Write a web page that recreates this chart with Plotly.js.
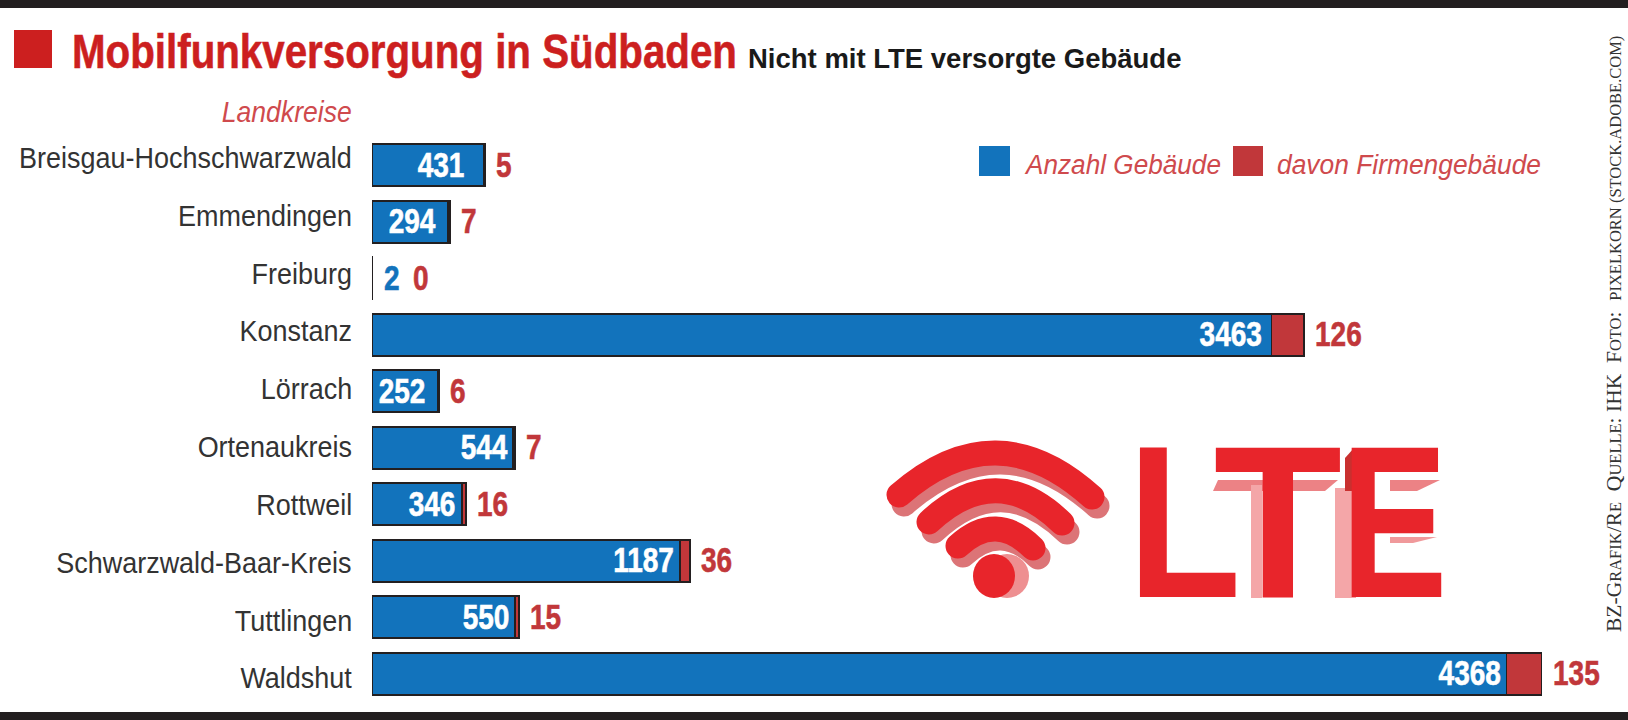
<!DOCTYPE html>
<html>
<head>
<meta charset="utf-8">
<script src="https://cdn.plot.ly/plotly-3.0.1.min.js"></script>
<style>html,body{margin:0;padding:0;background:#fff}</style>
</head>
<body>
<div id="plot" style="width:1628px;height:720px"></div>
<script>
var kreise = ["Breisgau-Hochschwarzwald", "Emmendingen", "Freiburg", "Konstanz", "Lörrach", "Ortenaukreis", "Rottweil", "Schwarzwald-Baar-Kreis", "Tuttlingen", "Waldshut"];
var gebaeude = [431, 294, 2, 3463, 252, 544, 346, 1187, 550, 4368];
var firmen = [5, 7, 0, 126, 6, 7, 16, 36, 15, 135];

// how far each white number sits inside its bar, px
var wertAbstand = [18, 10, 0, 7, 10, 3, 5, 4, 4, 4];

var blau = "#1273bc", rot = "#c1373a", hellrot = "#cf4a4d", titelrot = "#cc1f1f", logorot = "#e8252b", dunkel = "#231f20";
var sans = "Liberation Sans, sans-serif";

// page pixels to paper fractions
function px(x) { return x / 1628; }
function py(y) { return 1 - y / 720; }

var trace1 = {
  type: "bar", orientation: "h", name: "Anzahl Gebäude",
  y: kreise, x: gebaeude,
  marker: {color: blau, line: {color: dunkel, width: 1.8}},
  hoverinfo: "x+y"
};
var trace2 = {
  type: "bar", orientation: "h", name: "davon Firmengebäude",
  y: kreise, x: firmen,
  marker: {color: rot, line: {color: dunkel, width: 1.8}},
  hoverinfo: "x+y"
};

// the paper's condensed face is not installed, so text gets squeezed after drawing.
// squeeze[i] <= 1 is a ratio, above 1 a target width in px, 0 leaves the text alone
var notes = [], squeeze = [];
function note(a, s) { notes.push(a); squeeze.push(s); return notes.length - 1; }

function text(x, y, t, size, color, anchor, s, weight, style) {
  return note({xref: "paper", yref: "paper", x: px(x), y: py(y), text: t, showarrow: false,
    xanchor: anchor, yanchor: "middle",
    font: {size: size, color: color, family: sans, weight: weight || 400, style: style || "normal"}}, s);
}

kreise.forEach(function (k, i) {
  var klein = gebaeude[i] < 100;
  note({xref: "paper", yref: "y", x: px(354), y: k, text: k, showarrow: false, xanchor: "right",
    yshift: (5.5 - i) * 1.35, font: {size: 29, color: "#333", family: sans}}, 0.93);
  note({xref: "x", yref: "y", x: gebaeude[i], y: k, text: String(gebaeude[i]), showarrow: false,
    xanchor: klein ? "left" : "right", xshift: klein ? 9 : -wertAbstand[i], yshift: 1,
    font: {size: 35, color: klein ? blau : "#fff", family: sans, weight: 700}}, 0.8);
  note({xref: "x", yref: "y", x: gebaeude[i] + firmen[i], y: k, text: String(firmen[i]), showarrow: false,
    xanchor: "left", xshift: klein ? 38 : 9, yshift: 1,
    font: {size: 35, color: rot, family: sans, weight: 700}}, 0.8);
});

text(70, 51, "Mobilfunkversorgung in Südbaden", 49, titelrot, "left", 665, 700);
text(746, 58, "Nicht mit LTE versorgte Gebäude", 27.5, "#1a1a1a", "left", 0, 700);
text(354, 111, "Landkreise", 30, hellrot, "right", 130, 400, "italic");
text(1022, 165, "Anzahl Gebäude", 27, hellrot, "left", 195, 400, "italic");
text(1275, 165, "davon Firmengebäude", 27, hellrot, "left", 264, 400, "italic");
var lteIndex = text(1135, 521.5, "LTE", 217, logorot, "left", 0, 700);
// start and advance of each logo letter on the page, px
var lteBuchstaben = [["L", 1127.4, 113.6], ["T", 1213.6, 128.7], ["E", 1341, 106.5]];

function kap(t) { return "<span style=\"font-size:16.5px\">" + t + "</span>"; }
note({xref: "paper", yref: "paper", x: px(1614), y: py(334), textangle: -90, showarrow: false, xanchor: "center", yanchor: "middle",
  text: "BZ-G" + kap("RAFIK") + "/R" + kap("E") + "  Q" + kap("UELLE") + ": IHK  F" + kap("OTO") + ":  " + kap("PIXELKORN (STOCK.ADOBE.COM)"),
  font: {size: 21.5, color: "#333", family: "Liberation Serif"}}, 0);

function rect(x0, y0, x1, y1, color) {
  return {type: "rect", xref: "paper", yref: "paper", x0: px(x0), x1: px(x1), y0: py(y0), y1: py(y1),
    fillcolor: color, line: {width: 0}, layer: "below"};
}
function poly(pts, color) {
  var d = pts.map(function (p, i) { return (i ? "L" : "M") + px(p[0]) + " " + py(p[1]); }).join(" ") + " Z";
  return {type: "path", xref: "paper", yref: "paper", path: d, fillcolor: color, line: {width: 0}, layer: "below"};
}
function bogen(x0, y0, cx, cy, x1, y1, color) {
  return {type: "path", xref: "paper", yref: "paper", layer: "below", line: {color: color, width: 25},
    path: "M" + px(x0) + " " + py(y0) + " Q" + px(cx) + " " + py(cy) + " " + px(x1) + " " + py(y1)};
}
function kreis(x, y, rx, ry, color) {
  return {type: "circle", xref: "paper", yref: "paper", layer: "below", x0: px(x - rx), x1: px(x + rx), y0: py(y - ry), y1: py(y + ry),
    fillcolor: color, line: {width: 0}};
}

var wlanBoegen = [
  [899, 495, 996, 410, 1092, 497],
  [929, 522, 996, 459, 1062, 523],
  [958, 546, 996, 511, 1033, 548]
];

var shapes = [
  rect(0, 0, 1628, 8, dunkel),
  rect(0, 712, 1628, 720, dunkel),
  rect(14, 30, 52, 68, titelrot),
  rect(979, 146, 1010, 176, blau),
  rect(1233, 146, 1263, 176, rot)
];
wlanBoegen.forEach(function (b) { shapes.push(bogen(b[0] + 5, b[1] + 9, b[2] + 5, b[3] + 9, b[4] + 5, b[5] + 9, "#dc7477")); });
wlanBoegen.forEach(function (b) { shapes.push(bogen(b[0], b[1], b[2], b[3], b[4], b[5], logorot)); });
shapes.push(kreis(1007, 576, 22, 22, "#ee8f91"));
shapes.push(kreis(994, 576, 21, 22, logorot));
// extruded edges of the LTE lettering
shapes.push(poly([[1213, 491], [1218, 480], [1338, 480], [1325, 491]], "#ec8285"));
shapes.push(rect(1251, 485, 1262, 598, "#f4a6a8"));
shapes.push(rect(1335, 488, 1356, 598, "#f4a6a8"));
shapes.push(poly([[1345, 458], [1354, 448], [1354, 491], [1345, 491]], "#c9302f"));
shapes.push(poly([[1390, 480], [1440, 480], [1417, 491], [1390, 491]], "#ec8285"));
shapes.push(poly([[1390, 537], [1437, 537], [1413, 543], [1390, 543]], "#f0999b"));

var layout = {
  width: 1628, height: 720, showlegend: false, barmode: "stack", bargap: 0.255,
  margin: {l: 0, r: 0, t: 0, b: 0},
  paper_bgcolor: "#fff", plot_bgcolor: "#fff",
  xaxis: {domain: [px(372), px(1600)], range: [0, 4728], visible: false, fixedrange: true},
  yaxis: {domain: [py(702), py(137)], autorange: "reversed", visible: false, type: "category", fixedrange: true},
  annotations: notes,
  shapes: shapes
};

Plotly.newPlot("plot", [trace1, trace2], layout, {displayModeBar: false}).then(function () {
  document.querySelectorAll(".shapelayer path").forEach(function (p) { p.style.strokeLinecap = "round"; });
  document.querySelectorAll(".annotation").forEach(function (g) {
    var i = +g.getAttribute("data-index"), s = squeeze[i], el = g.querySelector("text");
    if (!el) return;
    if (i === lteIndex) { setzeLte(el); return; }
    if (!s) return;
    var w = el.getComputedTextLength(), r = s <= 1 ? s : s / w, x = +el.getAttribute("x");
    // text is centred on x, so scale about the edge it is anchored to
    var anker = notes[i].xanchor, mitte = anker === "left" ? x - w / 2 : x + w / 2;
    el.setAttribute("transform", "translate(" + mitte + " 0) scale(" + r + " 1) translate(" + (-mitte) + " 0)");
    // squeezing thins the bold stems, stroke them back up
    if (notes[i].font.weight === 700) {
      el.style.stroke = el.style.fill;
      el.style.strokeWidth = "0.6px";
    }
    var bg = g.querySelector("rect.bg");
    if (bg) bg.setAttribute("width", w * r);
  });
});

// logo letters each have their own width, one text element with three tspans
function setzeLte(el) {
  var y = el.getAttribute("y"), links = el.getScreenCTM().e;
  el.textContent = "";
  el.setAttribute("text-anchor", "start");
  lteBuchstaben.forEach(function (b) {
    var t = document.createElementNS("http://www.w3.org/2000/svg", "tspan");
    t.textContent = b[0];
    t.setAttribute("x", b[1] - links);
    t.setAttribute("y", y);
    t.setAttribute("textLength", b[2]);
    t.setAttribute("lengthAdjust", "spacingAndGlyphs");
    el.appendChild(t);
  });
}
</script>
</body>
</html>
